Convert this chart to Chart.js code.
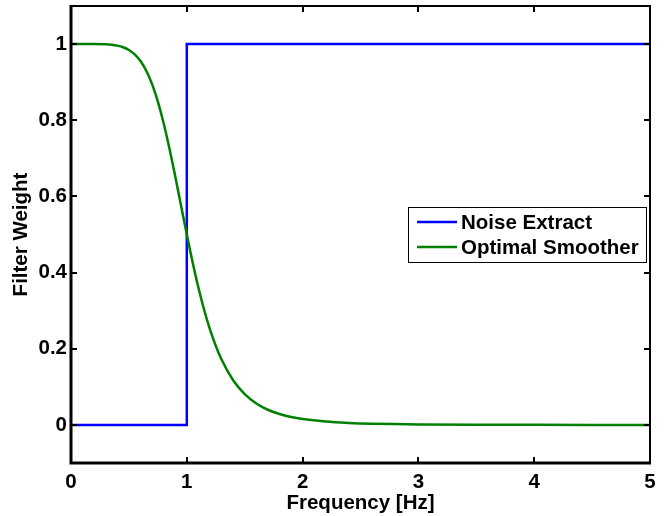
<!DOCTYPE html>
<html>
<head>
<meta charset="utf-8">
<script src="https://cdn.jsdelivr.net/npm/chart.js@4.4.1/dist/chart.umd.min.js"></script>
<style>
  body { margin: 0; background: #fff; }
  #wrap { width: 670px; height: 516px; }
</style>
</head>
<body>
<div id="wrap"><canvas id="filterChart" width="670" height="516"></canvas></div>
<script>
// values
const seriesLabels = ['Noise Extract', 'Optimal Smoother'];
const seriesColors = ['#0000ff', '#008000'];

const stepFreq = [0, 1, 1, 5];
const noiseExtract = [0, 0, 1, 1];

const smoothFreq = [0, 0.1, 0.2, 0.3, 0.35, 0.4, 0.45, 0.5, 0.55, 0.6, 0.65, 0.7, 0.75, 0.8, 0.85,
    0.9, 0.95, 1.0, 1.05, 1.1, 1.15, 1.2, 1.25, 1.3, 1.4, 1.5, 1.6, 1.7, 1.8, 1.9, 2.0, 2.2, 2.4,
    2.6, 2.8, 3.0, 3.5, 4.0, 4.5, 5.0];
const optimalSmoother = [1, 1, 1, 0.9993, 0.9982, 0.9959, 0.9918, 0.9846, 0.9731, 0.9554, 0.9299,
    0.8947, 0.8489, 0.7923, 0.7261, 0.653, 0.5763, 0.5, 0.4273, 0.3608, 0.3018, 0.2509, 0.2077,
    0.1716, 0.1172, 0.0807, 0.0563, 0.0398, 0.0286, 0.0208, 0.0154, 0.0087, 0.0052, 0.0032,
    0.0021, 0.0014, 0.0005, 0.0002, 0.0001, 0.0001];

const xTicks = [0, 1, 2, 3, 4, 5];
const yTicks = [0, 0.2, 0.4, 0.6, 0.8, 1];

const FONT = '"Liberation Sans", Arial, sans-serif';
const FONT_SIZE = 20.5;

function toPoints(xs, ys) {
    return xs.map((x, i) => ({ x: x, y: ys[i] }));
}

// matlab style box with inward ticks on all four sides, plus the legend
const boxPlugin = {
    id: 'boxPlugin',
    afterDraw(chart) {
        const c = chart.ctx;
        const area = chart.chartArea;
        const sx = chart.scales.x, sy = chart.scales.y;
        const tick = 6;
        c.save();
        c.strokeStyle = '#000';
        // top/right thinner, left/bottom heavier like the reference
        c.lineWidth = 2;
        c.beginPath();
        c.moveTo(area.left, area.top); c.lineTo(area.right, area.top); c.lineTo(area.right, area.bottom);
        c.stroke();
        c.lineWidth = 3;
        c.beginPath();
        c.moveTo(area.left, area.top - 1); c.lineTo(area.left, area.bottom); c.lineTo(area.right + 1, area.bottom);
        c.stroke();
        c.lineWidth = 2;
        c.beginPath();
        xTicks.forEach(v => {
            const px = Math.round(sx.getPixelForValue(v));
            c.moveTo(px, area.bottom); c.lineTo(px, area.bottom - tick);
            c.moveTo(px, area.top); c.lineTo(px, area.top + tick);
        });
        yTicks.forEach(v => {
            const py = Math.round(sy.getPixelForValue(v));
            c.moveTo(area.left, py); c.lineTo(area.left + tick, py);
            c.moveTo(area.right, py); c.lineTo(area.right - tick, py);
        });
        c.stroke();

        // legend box
        const lw = 238, lh = 55;
        const lx = area.right - 4 - lw;
        const ly = area.top + 201;
        c.fillStyle = '#fff';
        c.fillRect(lx, ly, lw, lh);
        c.lineWidth = 1;
        c.strokeRect(lx + 0.5, ly + 0.5, lw, lh);
        c.font = 'bold ' + FONT_SIZE + 'px ' + FONT;
        c.textBaseline = 'middle';
        c.textAlign = 'left';
        seriesLabels.forEach((lab, i) => {
            const y = ly + 15 + i * 25;
            c.strokeStyle = seriesColors[i];
            c.lineWidth = 2.5;
            c.beginPath();
            c.moveTo(lx + 9, y); c.lineTo(lx + 49, y);
            c.stroke();
            c.fillStyle = '#000';
            c.fillText(lab, lx + 53, y + 1);
        });
        c.restore();
    }
};

const ctx = document.getElementById('filterChart').getContext('2d');
new Chart(ctx, {
    type: 'scatter',
    data: {
        datasets: [
            {
                label: seriesLabels[0],
                data: toPoints(stepFreq, noiseExtract),
                showLine: true,
                borderColor: seriesColors[0],
                borderWidth: 2.5,
                pointRadius: 0,
                tension: 0,
                order: 1
            },
            {
                label: seriesLabels[1],
                data: toPoints(smoothFreq, optimalSmoother),
                showLine: true,
                borderColor: seriesColors[1],
                borderWidth: 2.5,
                pointRadius: 0,
                cubicInterpolationMode: 'monotone',
                order: 0
            }
        ]
    },
    options: {
        responsive: false,
        animation: false,
        layout: { padding: { left: 0, right: 20, top: 6, bottom: 0 } },
        plugins: {
            legend: { display: false },
            tooltip: { enabled: false }
        },
        scales: {
            x: {
                type: 'linear',
                min: 0,
                max: 5,
                grid: { display: false, drawTicks: false },
                border: { display: false },
                afterBuildTicks: scale => { scale.ticks = xTicks.map(v => ({ value: v })); },
                afterFit: scale => { scale.height = 53; scale.paddingLeft = 0; scale.paddingRight = 0; },
                ticks: {
                    color: '#000',
                    padding: 7,
                    font: { family: FONT, size: FONT_SIZE, weight: 'bold' },
                    callback: v => String(v)
                },
                title: {
                    display: true,
                    text: 'Frequency [Hz]',
                    color: '#000',
                    padding: { top: 0, bottom: 0 },
                    font: { family: FONT, size: FONT_SIZE, weight: 'bold' }
                }
            },
            y: {
                type: 'linear',
                min: -0.1,
                max: 1.1,
                grid: { display: false, drawTicks: false },
                border: { display: false },
                afterBuildTicks: scale => { scale.ticks = yTicks.map(v => ({ value: v })); },
                afterFit: scale => { scale.width = 71; scale.paddingTop = 0; scale.paddingBottom = 0; },
                ticks: {
                    color: '#000',
                    padding: 4,
                    font: { family: FONT, size: FONT_SIZE, weight: 'bold' },
                    callback: v => String(Math.round(v * 10) / 10)
                },
                title: {
                    display: true,
                    text: 'Filter Weight',
                    color: '#000',
                    padding: { top: 9, bottom: 0 },
                    font: { family: FONT, size: FONT_SIZE, weight: 'bold' }
                }
            }
        }
    },
    plugins: [boxPlugin]
});
</script>
</body>
</html>
